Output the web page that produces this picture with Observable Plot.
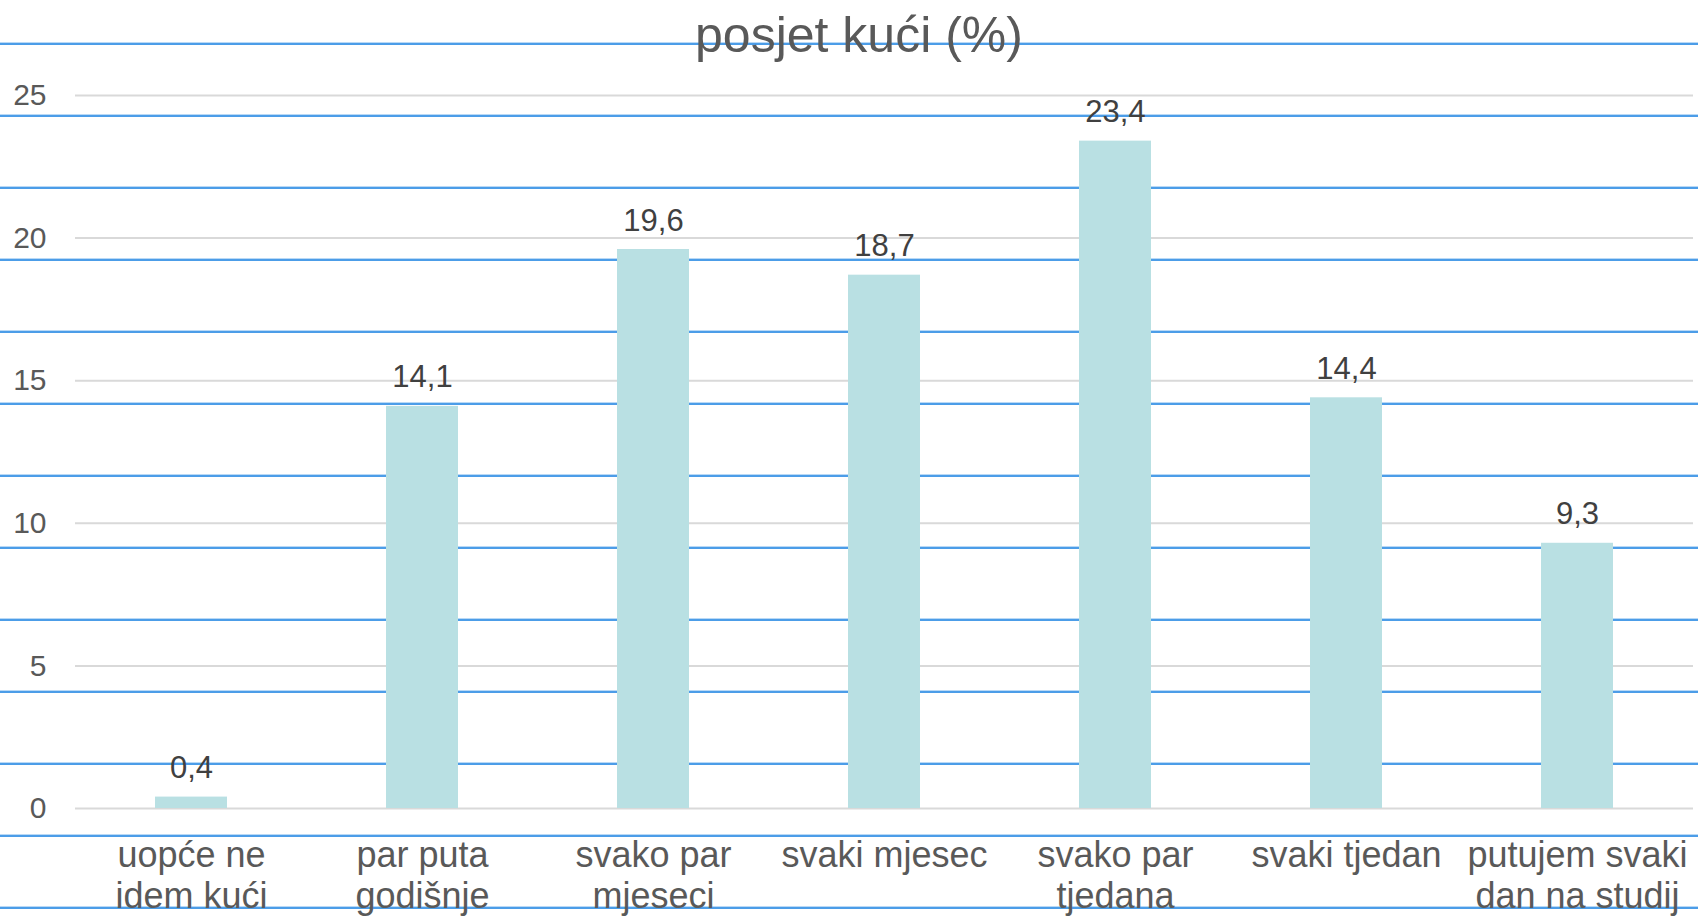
<!DOCTYPE html>
<html>
<head>
<meta charset="utf-8">
<script src="https://cdn.jsdelivr.net/npm/d3@7"></script>
<script src="https://cdn.jsdelivr.net/npm/@observablehq/plot@0.6"></script>
<style>
  html, body { margin: 0; padding: 0; background: #ffffff; overflow: hidden; }
  #wrap {
    position: relative; width: 1698px; height: 916px; overflow: hidden;
    background-image: repeating-linear-gradient(to bottom,
      transparent 0px, transparent 42px,
      #b9d9f6 42px, #b9d9f6 43px,
      #4c9de8 43px, #4c9de8 45px,
      transparent 45px, transparent 72px);
    font-family: "Liberation Sans", Arial, sans-serif;
  }
  #title {
    position: absolute; left: 559px; top: 10px; width: 600px;
    text-align: center; font-size: 50px; line-height: 50px; color: #595959;
    z-index: 2;
  }
  #chart { position: absolute; left: 0; top: 0; }
</style>
</head>
<body>
<div id="wrap">
  <div id="title">posjet kući (%)</div>
  <div id="chart"></div>
</div>
<script>
const categories = [
  "uopće ne\nidem kući",
  "par puta\ngodišnje",
  "svako par\nmjeseci",
  "svaki mjesec",
  "svako par\ntjedana",
  "svaki tjedan",
  "putujem svaki\ndan na studij"
];
const values = [0.4, 14.1, 19.6, 18.7, 23.4, 14.4, 9.3];
const yTicks = [0, 5, 10, 15, 20, 25];

const data = categories.map((c, i) => ({category: c, value: values[i]}));
const fmt = v => String(v).replace(".", ",");

const chart = Plot.plot({
  width: 1698,
  height: 916,
  marginTop: 95,
  marginBottom: 108,
  marginLeft: 75,
  marginRight: 5,
  style: {background: "transparent", fontFamily: "'Liberation Sans', Arial, sans-serif", overflow: "visible"},
  x: {domain: categories, paddingInner: 0.69, paddingOuter: 0.345, label: null},
  y: {domain: [0, 25], label: null},
  marks: [
    Plot.gridY(yTicks, {stroke: "#d9d9d9", strokeOpacity: 1, strokeWidth: 2}),
    Plot.barY(data, {x: "category", y: "value", fill: "#b9e0e3"}),
    Plot.text(data, {x: "category", y: "value", text: d => fmt(d.value), lineAnchor: "bottom", dy: -19, fontSize: 31, fill: "#404040"}),
    Plot.axisY(yTicks, {tickSize: 0, tickPadding: 29, fontSize: 30, color: "#595959", label: null}),
    Plot.axisX({tickSize: 0, tickPadding: 29, fontSize: 36, lineHeight: 1.15, color: "#595959", label: null})
  ]
});
document.getElementById("chart").appendChild(chart);
</script>
</body>
</html>
